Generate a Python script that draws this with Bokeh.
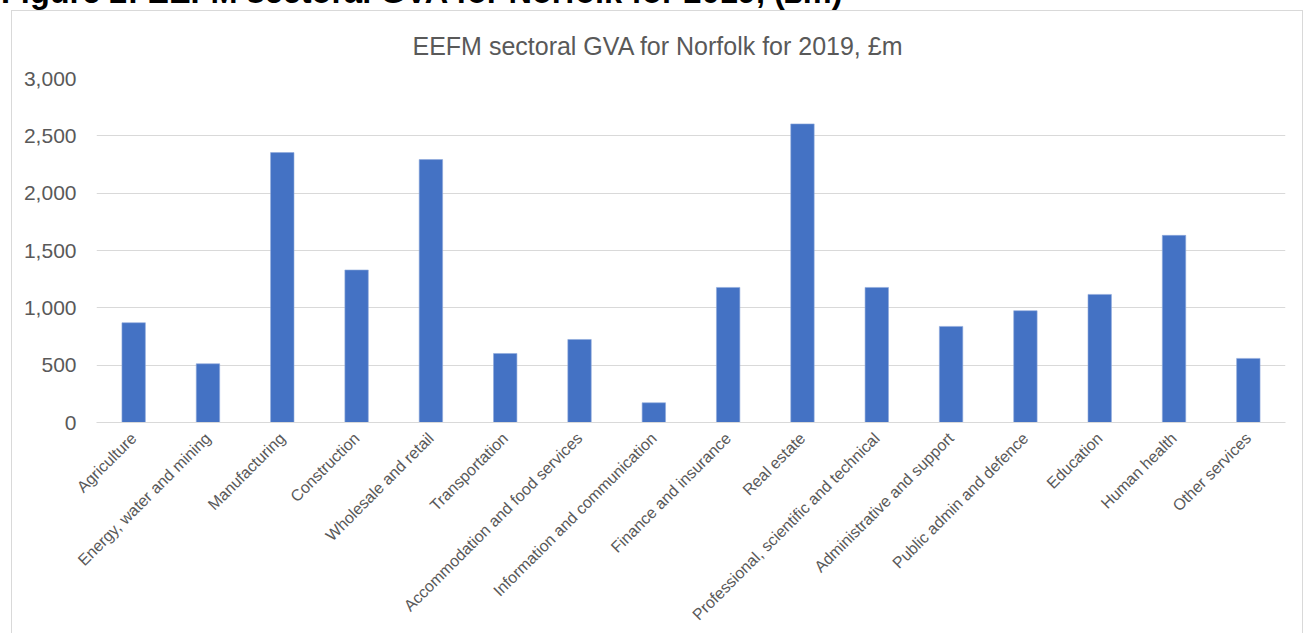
from math import pi
from bokeh.plotting import figure
from bokeh.layouts import column
from bokeh.models import (FactorRange, Range1d, FixedTicker, NumeralTickFormatter,
                          ColumnDataSource, Div)
from bokeh.embed import file_html
from bokeh.resources import INLINE

categories = [
    "Agriculture", "Energy, water and mining", "Manufacturing", "Construction",
    "Wholesale and retail", "Transportation", "Accommodation and food services",
    "Information and communication", "Finance and insurance", "Real estate",
    "Professional, scientific and technical", "Administrative and support",
    "Public admin and defence", "Education", "Human health", "Other services",
]
gva = [870, 512, 2354, 1330, 2293, 602, 724, 172, 1178, 2604, 1178, 838, 975, 1117, 1632, 559]
y_ticks = [0, 500, 1000, 1500, 2000, 2500, 3000]

header = "Figure 2: EEFM sectoral GVA for Norfolk for 2019, (£m)"
chart_title = "EEFM sectoral GVA for Norfolk for 2019, £m"

FONT = "Liberation Sans"
GREY = "#595959"

# header strip (cut off at the top of the page, as in the source document)
hdr = Div(
    text=('<div style="position:relative;top:-26px;left:1px;white-space:nowrap;'
          "font-family:'Liberation Sans';font-weight:bold;font-size:32.5px;"
          'line-height:37px;color:#000">' + header + '</div>'),
    width=1306, height=10, margin=(0, 0, 0, 0),
    styles={"overflow": "hidden"},
)

source = ColumnDataSource(dict(cat=categories, val=gva))

p = figure(width=1292, height=623, output_backend="svg", toolbar_location=None,
           x_range=FactorRange(*categories, range_padding=0), y_range=Range1d(0, 3000),
           min_border_left=84, min_border_right=19, min_border_top=66,
           min_border_bottom=212, margin=(0, 0, 0, 11),
           styles={"border": "1px solid #d9d9d9", "border-bottom": "none",
                   "box-sizing": "border-box"})
p.outline_line_color = None
p.background_fill_color = "white"
p.border_fill_color = "white"

p.title.text = chart_title
p.title.align = "left"
p.title.text_font = FONT
p.title.text_font_size = "25px"
p.title.text_font_style = "normal"
p.title.text_color = GREY
p.title.standoff = 37
p.title.offset = 316

p.vbar(x="cat", top="val", width=0.315, source=source,
       fill_color="#4472C4", line_color="#8eaadb", line_width=0.6)

p.xgrid.grid_line_color = None
p.ygrid.grid_line_color = "#d9d9d9"
p.ygrid.grid_line_width = 1

yax = p.yaxis[0]
yax.ticker = FixedTicker(ticks=y_ticks)
yax.formatter = NumeralTickFormatter(format="0,0")
yax.axis_line_color = None
yax.major_tick_line_color = None
yax.minor_tick_line_color = None
yax.major_label_text_font = FONT
yax.major_label_text_font_size = "21px"
yax.major_label_text_color = GREY
yax.major_label_standoff = 14

xax = p.xaxis[0]
xax.axis_line_color = "#d9d9d9"
xax.axis_line_width = 1
xax.major_tick_line_color = None
xax.minor_tick_line_color = None
xax.major_label_orientation = pi / 4
xax.major_label_text_font = FONT
xax.major_label_text_font_size = "16px"
xax.major_label_text_color = GREY
xax.major_label_standoff = 7

layout = column(hdr, p, spacing=0, margin=(0, 0, 0, 0))

open("out.html", "w").write(file_html(layout, INLINE))
